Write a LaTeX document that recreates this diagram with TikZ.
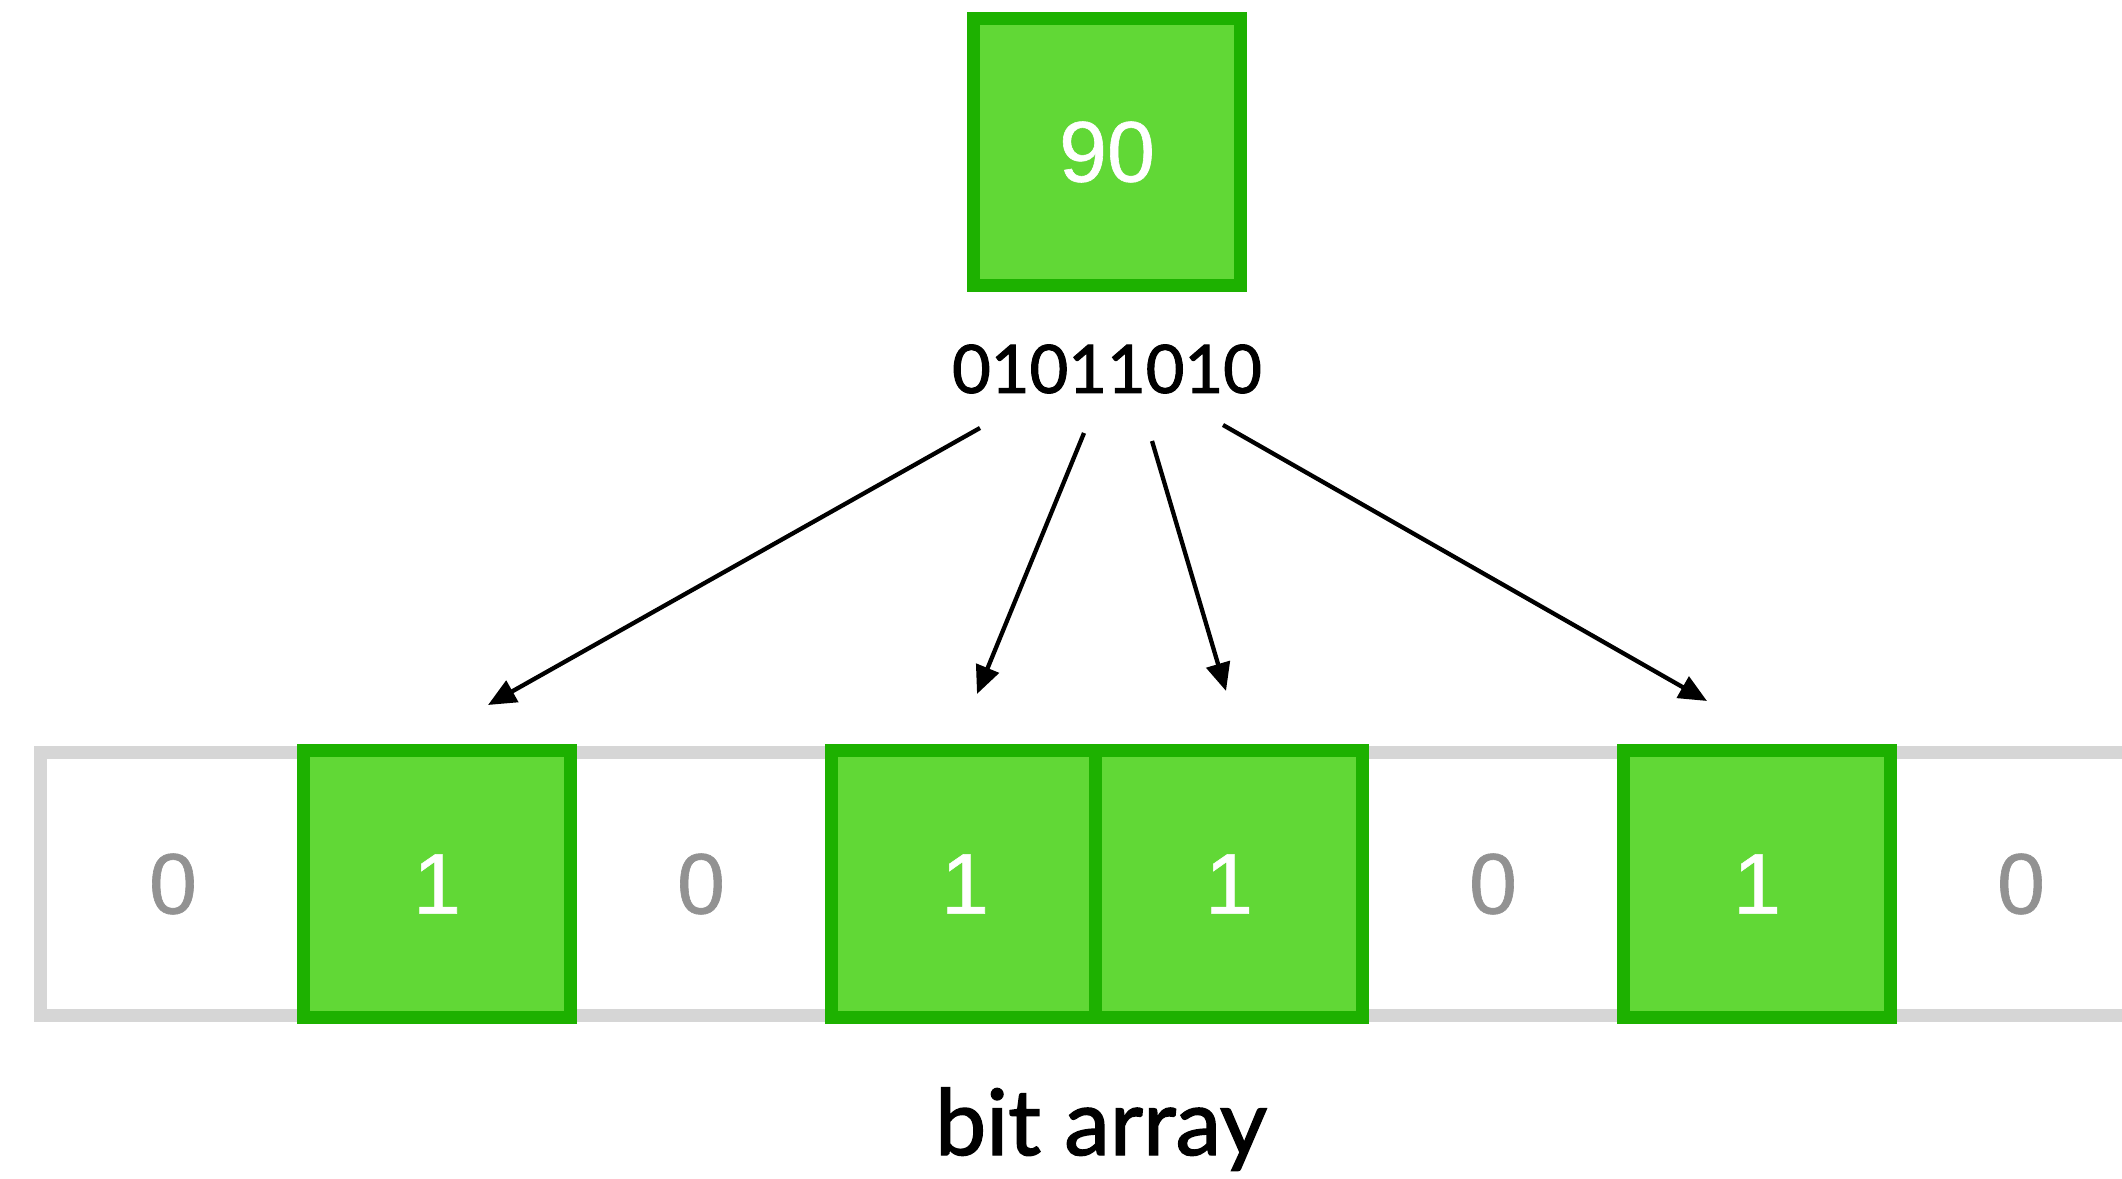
\documentclass[tikz,border=0pt]{standalone}
\usepackage{fontspec}
\setmainfont{Liberation Sans}
\newfontfamily\digitfont[FakeBold=0.7]{Liberation Sans}
\newfontfamily\labelfont[FakeBold=1.6]{Lato}
\usetikzlibrary{arrows.meta, positioning}

\definecolor{boxfill}{HTML}{61D836}
\definecolor{boxline}{HTML}{1DB100}
\definecolor{framegray}{HTML}{D6D6D6}
\definecolor{zerogray}{HTML}{929292}

\begin{document}
\begin{tikzpicture}[
  >=stealth,
  font=\digitfont\fontsize{24.5}{29}\selectfont,
  setbit/.style={draw=boxline, fill=boxfill, line width=0.13cm, rectangle, minimum size=2.67cm, inner sep=0pt, text=white},
  clearbit/.style={rectangle, minimum size=2.64cm, inner sep=0pt, text=zerogray},
  frame/.style={draw=framegray, line width=0.13cm},
  pointer/.style={-{Triangle[length=0.28cm, width=0.24cm]}, line width=0.043cm, draw=black},
  caption/.style={font=\labelfont\fontsize{19}{23}\selectfont, inner sep=0pt}
]
  \useasboundingbox (0,0) rectangle (21.22,-11.79);
  \clip (0,0) rectangle (21.22,-11.79);

  % Valor de entrada y su forma binaria
  \node[setbit] (value) at (11.07,-1.52) {90};
  \node[caption] (bits) at (11.07,-3.69) {01011010};

  % Marco del arreglo de bits
  \draw[frame] (0.405,-7.525) rectangle (21.8,-10.155);

  % Celdas del arreglo
  \node[clearbit] (c0) at (1.73,-8.84) {0};
  \node[setbit] (c1) at ([xshift=2.64cm]c0) {1};
  \node[clearbit] (c2) at ([xshift=2.64cm]c1) {0};
  \node[setbit] (c3) at ([xshift=2.64cm]c2) {1};
  \node[setbit] (c4) at ([xshift=2.64cm]c3) {1};
  \node[clearbit] (c5) at ([xshift=2.64cm]c4) {0};
  \node[setbit] (c6) at ([xshift=2.64cm]c5) {1};
  \node[clearbit] (c7) at ([xshift=2.64cm]c6) {0};

  % Etiqueta inferior
  \node[caption, font=\labelfont\fontsize{26}{31}\selectfont, anchor=base] (label) at (11.01,-11.55) {bit array};

  % Flechas hacia los bits activos
  \draw[pointer] ([shift={(-1.27,-0.59)}]bits.center) -- ([shift={(0.51,1.79)}]c1.center);
  \draw[pointer] ([shift={(-0.23,-0.64)}]bits.center) -- ([shift={(0.12,1.90)}]c3.center);
  \draw[pointer] ([shift={(0.45,-0.72)}]bits.center) -- ([shift={(-0.03,1.93)}]c4.center);
  \draw[pointer] ([shift={(1.16,-0.56)}]bits.center) -- ([shift={(-0.50,1.83)}]c6.center);

\end{tikzpicture}
\end{document}
